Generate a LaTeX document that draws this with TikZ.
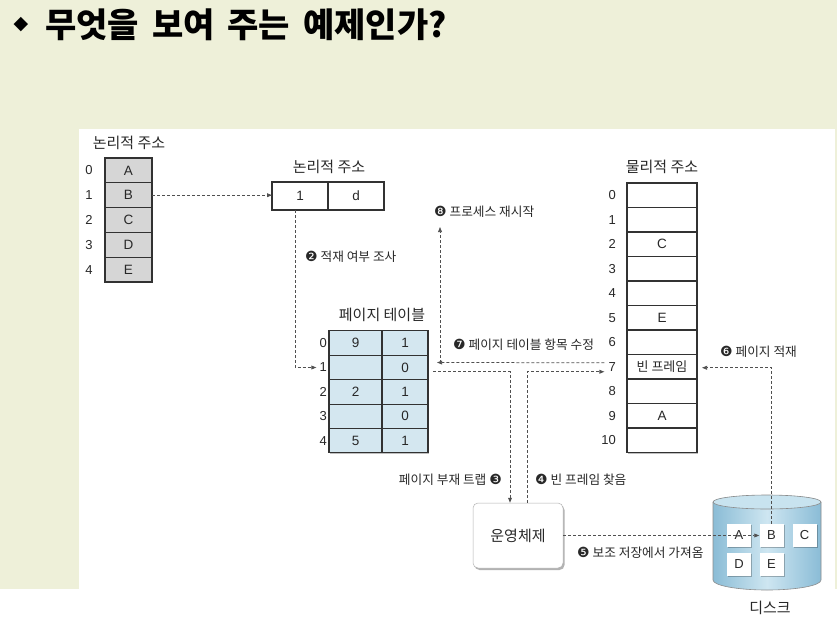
\documentclass[tikz,border=0pt]{standalone}
\usepackage{fontspec}
\setmainfont{Liberation Sans}
\newfontfamily\kr{Noto Sans CJK KR}
\newfontfamily\dv{DejaVu Sans}
\usetikzlibrary{arrows.meta,shadows}
\definecolor{bgbeige}{RGB}{238,240,217}
\definecolor{cellgray}{RGB}{214,214,214}
\definecolor{cellblue}{RGB}{212,231,240}
\definecolor{cellline}{RGB}{50,50,50}
\definecolor{connc}{RGB}{80,80,80}
\definecolor{txt}{RGB}{40,40,40}
\definecolor{cyledge}{RGB}{138,188,214}
\definecolor{cylmid}{RGB}{206,230,241}
\definecolor{cyltop}{RGB}{200,227,239}
\newcommand\cn[1]{{\dv\fontsize{14}{14}\selectfont #1}}
\begin{document}
\begin{tikzpicture}[x=1pt,y=-1pt,
  softshadow/.style={drop shadow={shadow xshift=1.3pt,shadow yshift=-1.3pt,opacity=0.25,fill=black}},
  cellbase/.style={draw=cellline,line width=1.1pt,inner sep=0pt,outer sep=0pt,text=txt,font=\fontsize{13.5}{13.5}\selectfont},
  gcell/.style={cellbase,fill=cellgray,minimum width=47pt,minimum height=24.8pt,softshadow},
  wcell/.style={cellbase,fill=white,minimum height=28pt,minimum width=56pt,softshadow},
  bcell/.style={cellbase,fill=cellblue,minimum height=24.4pt,softshadow},
  pcell/.style={cellbase,fill=white,minimum height=24.5pt,minimum width=70pt,softshadow},
  dcell/.style={draw=none,fill=white,inner sep=0pt,minimum width=24pt,minimum height=23pt,text=txt,font=\fontsize{13}{13}\selectfont,softshadow},
  idx/.style={inner sep=0pt,text=txt,font=\fontsize{13}{13}\selectfont},
  hdr/.style={inner sep=0pt,text=txt,font=\kr\fontsize{15}{15}\selectfont},
  steplab/.style={inner sep=0pt,text=txt,font=\kr\fontsize{12.7}{12.7}\selectfont},
  conn/.style={draw=connc,line width=0.75pt,dash pattern=on 3pt off 2pt},
  arr/.style={-{Triangle[length=5pt,width=3.8pt]}}
]
\useasboundingbox (0,0) rectangle (837,624);
% background
\fill[white] (0,0) rectangle (837,624);
\fill[bgbeige] (0,0) rectangle (837,129);
\fill[bgbeige] (0,129) rectangle (79,589);
\fill[bgbeige] (835,129) rectangle (837,589);
% title
\node[inner sep=0pt,text=black,font=\dv\fontsize{19}{19}\selectfont] (tdia) at (21,25) {◆};
\node[anchor=west,inner sep=0pt,text=black,font=\kr\bfseries\fontsize{34}{34}\selectfont] (title) at (45,25) {\spaceskip=13pt 무엇을 보여 주는 예제인가?};
% left logical memory
\node[hdr] (lah) at (129,143) {논리적 주소};
\foreach \t [count=\i from 0] in {A,B,C,D,E} {
  \node[gcell] (la\i) at (128.5,{170.4+24.8*\i}) {\t};
  \node[idx] (li\i) at (89,{170.4+24.8*\i}) {\i};
}
% logical address
\node[hdr] (loh) at (329,167) {논리적 주소};
\node[wcell] (lo1) at (300,196) {1};
\node[wcell] (lod) at (356,196) {d};
% page table
\node[hdr] (pth) at (382,315) {페이지 테이블};
\foreach \a/\b [count=\i from 0] in {9/1,/0,2/1,/0,5/1} {
  \node[bcell,minimum width=53pt] (pl\i) at (355.5,{343.1+24.4*\i}) {\a};
  \node[bcell,minimum width=46pt] (pr\i) at (405,{343.1+24.4*\i}) {\b};
  \node[idx,anchor=east] (pi\i) at (327,{343.1+24.4*\i}) {\i};
}
% physical memory
\node[hdr] (pmh) at (662,167) {물리적 주소};
\foreach \t [count=\i from 0] in {,,C,,,E,,{\kr\fontsize{13}{13}\selectfont 빈 프레임},,A,} {
  \node[pcell] (pm\i) at (662,{195.25+24.5*\i}) {\t};
  \node[idx,anchor=east] (qi\i) at (616,{195.25+24.5*\i}) {\i};
}
% operating system
\node[draw=black!30,line width=0.5pt,fill=white,rounded corners=5pt,minimum width=90pt,minimum height=65pt,
  text=txt,font=\kr\fontsize{15}{15}\selectfont,
  drop shadow={shadow xshift=1.5pt,shadow yshift=-2pt,opacity=0.3,fill=black}] (os) at (518,535.5) {운영체제};
% disk
\path[left color=cyledge,right color=cyledge,middle color=cylmid]
  (713,502) -- (713,580) arc[start angle=180,end angle=360,x radius=54pt,y radius=10pt]
  -- (821,502) arc[start angle=0,end angle=180,x radius=54pt,y radius=7pt] -- cycle;
\draw[black!45,line width=0.6pt] (713,502) -- (713,580) arc[start angle=180,end angle=360,x radius=54pt,y radius=10pt] -- (821,502);
\draw[black!45,line width=0.6pt,fill=cyltop] (767,502) ellipse[x radius=54pt,y radius=7pt];
\node[dcell] (dA) at (739,535.5) {A};
\node[dcell] (dB) at (771.5,535.5) {B};
\node[dcell] (dC) at (804.5,535.5) {C};
\node[dcell] (dD) at (739,564.5) {D};
\node[dcell] (dE) at (771.5,564.5) {E};
\node[hdr] (dh) at (770,608) {디스크};
% step labels
\node[steplab,anchor=west] (s2) at (305,257) {\cn{❷} 적재 여부 조사};
\node[steplab,anchor=east] (s3) at (502,480) {페이지 부재 트랩 \cn{❸}};
\node[steplab,anchor=west] (s4) at (535,480) {\cn{❹} 빈 프레임 찾음};
\node[steplab,anchor=west] (s5) at (577,553) {\cn{❺} 보조 저장에서 가져옴};
\node[steplab,anchor=west] (s6) at (720,352) {\cn{❻} 페이지 적재};
\node[steplab,anchor=west] (s7) at (453,345) {\cn{❼} 페이지 테이블 항목 수정};
\node[steplab,anchor=west] (s8) at (434,212) {\cn{❽} 프로세스 재시작};
% connectors
\draw[conn,arr] (la1.east) -- (la1.east -| lo1.west);
\draw[conn,arr] ([xshift=-5pt]lo1.south) |- ([xshift=-3pt]pi1.west);
\draw[conn,arr] ([xshift=5pt,yshift=-4pt]pr1.east) -| ([xshift=-8pt]os.north);
\draw[conn,arr] ([xshift=9pt]os.north) |- ([xshift=-4pt,yshift=-5pt]qi7.west);
\draw[conn,arr] ([xshift=-4pt,yshift=4pt]qi7.west) -- ([xshift=9pt,yshift=5pt]pr1.east);
\coordinate (c8s) at ([xshift=12pt,yshift=5pt]pr1.east);
\coordinate (c8e) at (c8s |- 0,227);
\draw[conn,arr] (c8s) -- (c8e);
\draw[conn,arr] (dB.north) |- ([xshift=5pt,yshift=-1pt]pm7.east);
\draw[conn,arr] (os.east) -- (dB.west);
\end{tikzpicture}
\end{document}
